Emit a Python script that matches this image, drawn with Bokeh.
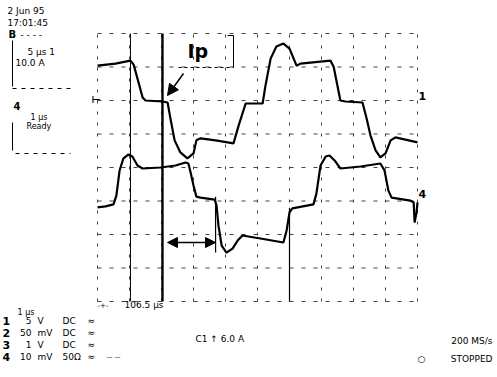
import numpy as np
from bokeh.plotting import figure
from bokeh.models import Range1d, Label, Arrow, NormalHead
from bokeh.embed import file_html
from bokeh.resources import INLINE

# ---- data (time in divisions, amplitude in divisions) ----
ch1_t = [0.00, 0.56, 1.03, 1.13, 1.41, 1.50, 2.03, 2.19, 2.28, 2.41, 2.59, 2.81, 3.00, 3.09,
         3.22, 3.69, 4.25, 4.41, 4.63, 5.16, 5.25, 5.41, 5.59, 5.81, 6.00, 6.13, 6.22, 6.34,
         7.28, 7.38, 7.59, 7.75, 8.28, 8.41, 8.53, 8.69, 8.84, 9.00, 9.16, 9.31, 10.00]
ch1_v = [3.04, 3.10, 3.19, 3.07, 2.09, 2.00, 1.97, 1.94, 1.46, 0.81, 0.45, 0.27, 0.42, 0.81,
         0.87, 0.81, 0.72, 1.25, 1.91, 1.91, 2.45, 3.25, 3.61, 3.70, 3.55, 3.25, 3.04, 3.10,
         3.19, 3.01, 2.00, 1.97, 1.94, 1.46, 0.96, 0.51, 0.30, 0.42, 0.81, 0.90, 0.75]

ch4_t = [0.00, 0.25, 0.50, 0.59, 0.69, 0.81, 0.97, 1.09, 1.25, 1.41, 1.97, 2.44, 2.75, 2.84,
         2.91, 3.00, 3.09, 3.22, 3.66, 3.72, 3.78, 3.88, 4.03, 4.22, 4.38, 4.53, 5.09, 5.81,
         5.91, 6.00, 6.09, 6.75, 6.84, 6.97, 7.13, 7.25, 7.41, 7.59, 8.22, 8.84, 8.97, 9.09,
         9.19, 9.78, 9.88, 9.91, 9.97, 10.00]
ch4_v = [-1.19, -1.16, -1.10, -0.84, -0.09, 0.27, 0.39, 0.33, 0.06, -0.03, 0.00, 0.06, 0.15, 0.12,
         -0.15, -0.54, -0.87, -0.90, -0.96, -1.13, -1.73, -2.33, -2.54, -2.42, -2.18, -2.03, -2.12, -2.24,
         -1.88, -1.34, -1.22, -1.10, -0.78, 0.06, 0.33, 0.36, 0.21, -0.03, 0.03, 0.12, -0.09, -0.69,
         -0.90, -0.99, -1.04, -1.64, -1.34, -1.04]

grid_x = list(range(0, 11))
grid_y = list(range(-4, 5))

cursor_t = [1.03, 2.03, 3.69, 6.00]
cursor_lo = [-4.0, -4.0, -2.54, -4.0]
cursor_hi = [4.0, 4.0, -0.87, -1.2]
cursor_w = [1.0, 2.4, 1.2, 1.2]

table_ch = ["1", "2", "3", "4"]
table_val = ["5", "50", "1", "10"]
table_unit = ["V", "mV", "V", "mV"]
table_cpl = ["DC", "DC", "DC", "50Ω"]

# ---- layout helpers (picture pixel -> division units) ----
W, H = 497, 377
PX_DIV_X, PX_DIV_Y = 32.0, 33.5
def X(px):
    return (px - 97) / PX_DIV_X
def Y(py):
    return (167 - py) / PX_DIV_Y

x0 = X(0)
y1 = Y(0)
p = figure(width=W, height=H, output_backend="svg", toolbar_location=None,
           x_range=Range1d(x0, x0 + W / PX_DIV_X), y_range=Range1d(y1 - H / PX_DIV_Y, y1),
           min_border=0, min_border_left=0, min_border_right=0, min_border_top=0, min_border_bottom=0)
p.axis.visible = False
p.grid.visible = False
p.outline_line_color = None
p.background_fill_color = "white"
p.border_fill_color = "white"

# graticule
p.segment(x0=grid_x, x1=grid_x, y0=[grid_y[0]] * len(grid_x), y1=[grid_y[-1]] * len(grid_x),
          line_color="#222222", line_width=1, line_dash="3 8", line_alpha=0.85)
p.segment(x0=[grid_x[0]] * len(grid_y), x1=[grid_x[-1]] * len(grid_y), y0=grid_y, y1=grid_y,
          line_color="#222222", line_width=1, line_dash="4 8", line_alpha=0.85)

# cursors
p.segment(x0=cursor_t, x1=cursor_t, y0=cursor_lo, y1=cursor_hi, line_color="black", line_width=cursor_w)

# traces
p.line(ch1_t, ch1_v, line_color="black", line_width=2.2)
p.line(ch4_t, ch4_v, line_color="black", line_width=2.2)

# bracket near Ip label
p.line([X(227), X(233), X(233)], [Y(35), Y(35), Y(67)], line_color="black", line_width=1)
p.line([X(178), X(233)], [Y(67), Y(67)], line_color="black", line_width=1, line_dash="3 3")

# trace label boxes at left
p.line([X(12), X(12)], [Y(40), Y(86)], line_color="black", line_width=1)
p.line([X(12), X(70)], [Y(88), Y(88)], line_color="black", line_width=1, line_dash="4 5")
p.line([X(12), X(12)], [Y(122), Y(150)], line_color="black", line_width=1)
p.line([X(15), X(70)], [Y(153), Y(153)], line_color="black", line_width=1, line_dash="4 5")

FONT = "DejaVu Sans"
def lab(text, px, py, size=9, bold=False, align="left"):
    p.add_layout(Label(x=X(px), y=Y(py), text=text, text_font=FONT,
                       text_font_size=f"{size}px", text_font_style="bold" if bold else "normal",
                       text_baseline="middle", text_align=align, text_color="black"))

lab("2 Jun 95", 7, 10)
lab("17:01:45", 7, 22)
lab("B", 8, 34, 10, True)
lab("- - - -", 20, 34)
lab("5 μs 1", 27, 51)
lab("10.0 A", 15, 62)
lab("4", 13, 105, 10, True)
lab("1 μs", 30, 117, 8)
lab("Ready", 26, 126, 8)

lab("Ip", 187, 50, 19, True)
lab("⊢", 91, 99, 10, True)
lab("1", 418, 95, 11, True)
lab("4", 418, 193, 11, True)

lab("-+-", 97, 304, 7)
lab("106.5 μs", 124, 304, 9)
lab("1 μs", 17, 312, 8)
rows_y = [320, 332, 344, 356]
for ch, v, u, c, ry in zip(table_ch, table_val, table_unit, table_cpl, rows_y):
    lab(ch, 2, ry, 11, True)
    lab(v, 31, ry, 9, align="right")
    lab(u, 37, ry, 9)
    lab(c, 62, ry, 9)
    lab("≈", 87, ry, 9)
lab("— —", 106, 356, 6)
lab("C1 ↑ 6.0 A", 195, 338, 9)
lab("200 MS/s", 492, 340, 9, align="right")
lab("○", 417, 358, 9)
lab("STOPPED", 492, 358, 9, align="right")

# arrows
p.add_layout(Arrow(end=NormalHead(size=11, fill_color="black", line_color="black"),
                   x_start=X(183), y_start=Y(73), x_end=X(167), y_end=Y(95),
                   line_color="black", line_width=1.5))
p.add_layout(Arrow(start=NormalHead(size=10, fill_color="black", line_color="black"),
                   end=NormalHead(size=10, fill_color="black", line_color="black"),
                   x_start=X(167), y_start=Y(242), x_end=X(215), y_end=Y(242),
                   line_color="black", line_width=1.5))

open("out.html", "w").write(file_html(p, INLINE))
